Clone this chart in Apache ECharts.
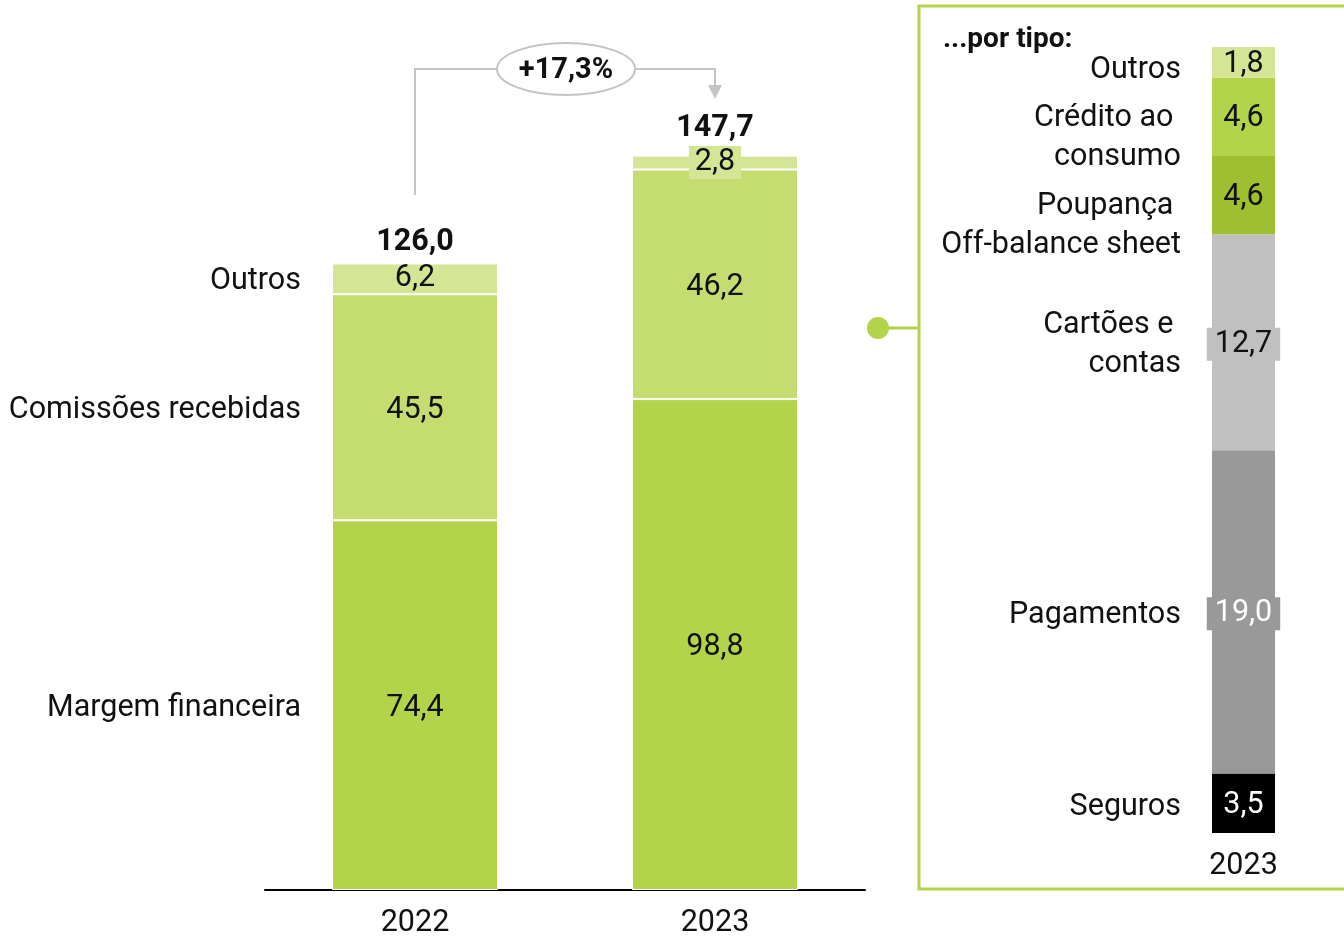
<!DOCTYPE html>
<html>
<head>
<meta charset="utf-8">
<script src="https://cdn.jsdelivr.net/npm/echarts@6/dist/echarts.min.js"></script>
<style>
html,body{margin:0;padding:0;background:#fff;}
#chart{width:1344px;height:939px;}
</style>
</head>
<body>
<div id="chart"></div>
<script>
// ---- data ----
const years = ['2022', '2023'];
const seriesNames = ['Margem financeira', 'Comissões recebidas', 'Outros'];
const margem = [74.4, 98.8];
const comissoes = [45.5, 46.2];
const outros = [6.2, 2.8];
const totals = [126.0, 147.7];
const growthLabel = '+17,3%';

const tipoYear = ['2023'];
const tipoNames = ['Seguros', 'Pagamentos', 'Cartões e \ncontas', 'Poupança \nOff-balance sheet', 'Crédito ao \nconsumo', 'Outros'];
const tipoValues = [3.5, 19.0, 12.7, 4.6, 4.6, 1.8];
const panelTitle = '...por tipo:';

// ---- style ----
const FONT = 'Roboto';
const FS = 30.5;
const DY = 3;
const leftColors = ['#b3d34a', '#c5dd70', '#d5e596'];
const tipoColors = ['#000000', '#999999', '#c0c0c0', '#9fbe30', '#b3d34a', '#d5e596'];
const tipoLabelColors = ['#fff', '#fff', '#111', '#111', '#111', '#111'];
const tipoLabelBg = [null, '#999999', '#c0c0c0', null, null, null];
const tipoNameOffset = [1, 1, 0, 28, 18, 5];
const fmt = v => v.toFixed(1).replace('.', ',');

const chart = echarts.init(document.getElementById('chart'));

const leftValues = [margem, comissoes, outros];
const series = [];

leftValues.forEach((vals, i) => {
  series.push({
    type: 'bar', name: seriesNames[i], stack: 'main', xAxisIndex: 0, yAxisIndex: 0,
    barWidth: 166, barGap: '-100%', silent: true,
    itemStyle: { color: leftColors[i], borderColor: '#fff', borderWidth: 1 },
    label: { show: true, position: 'inside', offset: [0, DY], color: '#111', fontFamily: FONT, fontSize: FS,
      formatter: p => fmt(p.value) },
    data: vals.map((v, j) => {
      if (i === 2 && j === 1) {
        return { value: v, label: { backgroundColor: leftColors[2], padding: [1, 6, 1, 6], offset: [0, 0] } };
      }
      if (i === 2 && j === 0) {
        return { value: v, label: { offset: [0, 0] } };
      }
      return v;
    })
  });
});
// category names to the left of 2022 bar (ghost stack)
leftValues.forEach((vals, i) => {
  series.push({
    type: 'bar', name: 'g_' + seriesNames[i], stack: 'ghost', xAxisIndex: 0, yAxisIndex: 0,
    barWidth: 166, barGap: '-100%', silent: true,
    itemStyle: { color: 'rgba(0,0,0,0)' },
    label: { show: true, position: 'left', distance: 31, offset: [0, DY], color: '#111', fontFamily: FONT, fontSize: FS,
      formatter: () => seriesNames[i] },
    data: vals.map((v, j) => j === 0 ? v : { value: v, label: { show: false } })
  });
});
// totals
series.push({
  type: 'scatter', xAxisIndex: 0, yAxisIndex: 0, symbolSize: 0, silent: true,
  itemStyle: { opacity: 1 },
  label: { show: true, position: 'top', color: '#111', fontFamily: FONT, fontSize: FS, fontWeight: 'bold',
    formatter: p => fmt(p.value) },
  data: totals.map((v, j) => ({ value: v, label: { distance: j === 0 ? 6 : 12 } }))
});

// right panel bar
tipoValues.forEach((v, i) => {
  const lbl = { show: true, position: 'inside', offset: [0, 2], color: tipoLabelColors[i], fontFamily: FONT, fontSize: FS,
    formatter: p => fmt(p.value) };
  if (tipoLabelBg[i]) { lbl.backgroundColor = tipoLabelBg[i]; lbl.padding = [1, 8, 1, 8]; }
  series.push({
    type: 'bar', name: 't_' + i, stack: 'tipo', xAxisIndex: 1, yAxisIndex: 1,
    barWidth: 63, barGap: '-100%', silent: true,
    itemStyle: { color: tipoColors[i] },
    label: lbl,
    data: [v]
  });
});
tipoValues.forEach((v, i) => {
  series.push({
    type: 'bar', name: 'tg_' + i, stack: 'tipoGhost', xAxisIndex: 1, yAxisIndex: 1,
    barWidth: 63, barGap: '-100%', silent: true,
    itemStyle: { color: 'rgba(0,0,0,0)' },
    label: { show: true, position: 'left', distance: 31, offset: [0, tipoNameOffset[i] + DY],
      color: '#111', fontFamily: FONT, fontSize: FS, lineHeight: 39, align: 'right',
      formatter: () => tipoNames[i] },
    data: [v]
  });
});

const option = {
  animation: false,
  backgroundColor: '#fff',
  textStyle: { fontFamily: FONT },
  grid: [
    { left: 265, width: 600, top: 95, bottom: 49 },
    { left: 1212, width: 63, top: 47, bottom: 106 }
  ],
  xAxis: [
    { type: 'category', gridIndex: 0, data: years,
      axisLine: { lineStyle: { color: '#000', width: 2 } }, axisTick: { show: false },
      axisLabel: { color: '#111', fontFamily: FONT, fontSize: FS, margin: 18 } },
    { type: 'category', gridIndex: 1, data: tipoYear,
      axisLine: { show: false }, axisTick: { show: false },
      axisLabel: { color: '#111', fontFamily: FONT, fontSize: FS, margin: 18 } }
  ],
  yAxis: [
    { type: 'value', gridIndex: 0, min: 0, max: 160, show: false, splitLine: { show: false } },
    { type: 'value', gridIndex: 1, min: 0, max: 46.2, show: false, splitLine: { show: false } }
  ],
  series: series
};
chart.setOption(option);

// ---- annotations ----
const pA = chart.convertToPixel({ xAxisIndex: 0, yAxisIndex: 0 }, [years[0], totals[0]]);
const pB = chart.convertToPixel({ xAxisIndex: 0, yAxisIndex: 0 }, [years[1], totals[1]]);
const topY = 69;
const ellCx = (pA[0] + pB[0]) / 2 + 1;
const gray = '#c4c4c4';
const green = '#b3d34a';
chart.setOption({
  graphic: [
    { type: 'polyline', silent: true, shape: { points: [[pA[0], pA[1] - 69], [pA[0], topY], [ellCx - 69, topY]] },
      style: { stroke: gray, lineWidth: 2, fill: null } },
    { type: 'polyline', silent: true, shape: { points: [[ellCx + 69, topY], [pB[0], topY], [pB[0], pB[1] - 70]] },
      style: { stroke: gray, lineWidth: 2, fill: null } },
    { type: 'polygon', silent: true, shape: { points: [[pB[0] - 7, pB[1] - 71], [pB[0] + 7, pB[1] - 71], [pB[0], pB[1] - 57]] },
      style: { fill: gray } },
    { type: 'ellipse', silent: true, shape: { cx: ellCx, cy: topY, rx: 69, ry: 26 },
      style: { fill: '#fff', stroke: gray, lineWidth: 2 } },
    { type: 'text', silent: true, x: ellCx, y: topY + 2,
      style: { text: growthLabel, fill: '#111', font: 'bold 29px "' + FONT + '"', align: 'center', verticalAlign: 'middle' } },
    // right panel frame
    { type: 'rect', silent: true, shape: { x: 919, y: 6, width: 600, height: 883 },
      style: { fill: null, stroke: green, lineWidth: 3 } },
    { type: 'line', silent: true, shape: { x1: 878, y1: 328, x2: 919, y2: 328 },
      style: { stroke: green, lineWidth: 3 } },
    { type: 'circle', silent: true, shape: { cx: 878, cy: 328, r: 11 }, style: { fill: green } },
    { type: 'text', silent: true, x: 943, y: 40,
      style: { text: panelTitle, fill: '#111', font: 'bold 28px "' + FONT + '"', align: 'left', verticalAlign: 'middle' } }
  ]
});
</script>
</body>
</html>
